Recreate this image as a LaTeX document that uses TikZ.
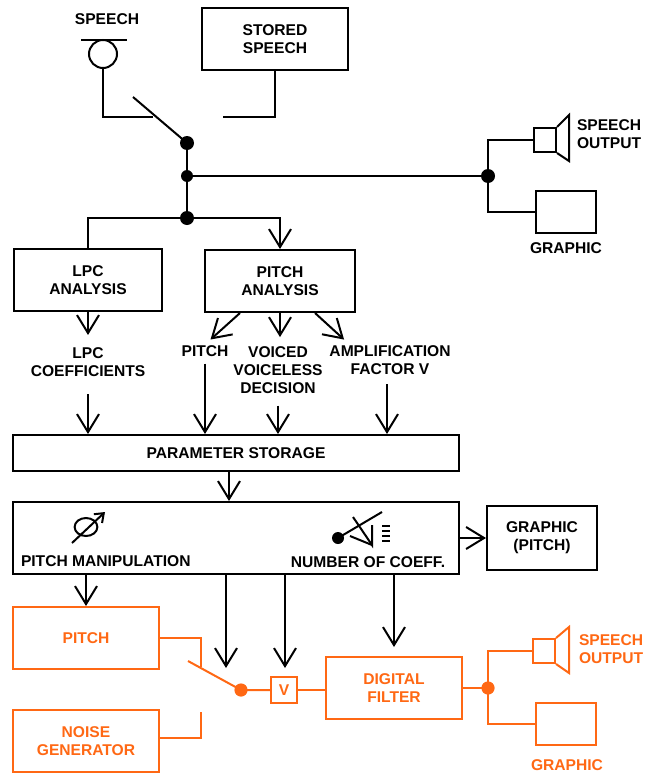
\documentclass[tikz,border=0pt]{standalone}
\usepackage{fontspec}
\setmainfont{Liberation Sans}
\usetikzlibrary{arrows.meta,calc}
\definecolor{orng}{RGB}{255,104,20}
\tikzset{>={Straight Barb[length=9pt,width=11pt]}}
\begin{document}
\begin{tikzpicture}[x=0.5pt,y=-0.5pt, line width=1pt,
  font=\fontsize{7.8}{9}\selectfont\bfseries,
  box/.style 2 args={draw, inner sep=0pt, minimum width=#1*0.5pt, minimum height=#2*0.5pt, align=center},
  lbl/.style={inner sep=0pt, align=center}]
\useasboundingbox (0,0) rectangle (648,776);

\node[box={146}{62}] (stored) at (275,39) {STORED\\SPEECH};
\node[lbl] (micl) at (107,19) {SPEECH};
\node[box={148}{62}] (lpc) at (88,280) {LPC\\ANALYSIS};
\node[box={150}{62}] (pana) at (280,281) {PITCH\\ANALYSIS};
\node[lbl] (coef) at (88,362.5) {LPC\\COEFFICIENTS};
\node[lbl] (pitchl) at (205,351) {PITCH};
\node[lbl] (voiced) at (278,370) {VOICED\\VOICELESS\\DECISION};
\node[lbl] (ampl) at (390,360.5) {AMPLIFICATION\\FACTOR V};
\node[box={446}{36}] (storage) at (236,453) {PARAMETER STORAGE};
\node[box={446}{72}] (manip) at (236,538) {};
\node[lbl, anchor=west] (pmanl) at (20,561) {PITCH MANIPULATION};
\node[lbl] (ncoef) at (368,562) {NUMBER OF COEFF.};
\node[box={110}{64}] (gpitch) at (542,538) {GRAPHIC\\(PITCH)};
\node[box={22}{24}] (spk1) at (545,140) {};
\node[lbl, anchor=west, align=left] (spk1l) at (576,134) {SPEECH\\OUTPUT};
\node[box={60}{42}] (graph1) at (566,212) {};
\node[lbl] (graph1l) at (566,248) {GRAPHIC};

\coordinate (micc) at (103,54);
\coordinate (mic1) at (153,117);
\coordinate (bl1) at (133,97);
\coordinate (st1) at (223,117);
\coordinate (sw) at (187,143);
\coordinate (j1) at (187,176);
\coordinate (j2) at (187,218);
\coordinate (jr) at (488,176);

\draw (micc) circle[radius=7pt];
\draw ([xshift=-11pt,yshift=7pt]micc) -- ++(46,0);
\draw ([yshift=-7pt]micc) |- (mic1);
\draw (bl1) -- (sw);
\draw (stored.south) |- (st1);
\draw (sw) -- (j2);
\draw (j1) -- (jr);
\draw (spk1.west) -| (jr) |- (graph1.west);
\draw (spk1.north east) -- ++(12,-12) -- ++(0,46) -- (spk1.south east);
\draw (lpc.north) |- (j2);
\draw[->] (j2) -| (pana.north);
\foreach \p/\r in {sw/3.5pt, j1/3pt, j2/3.5pt, jr/3.5pt}
  \fill (\p) circle[radius=\r];

\draw[->, shorten >=6pt] (lpc.south) -- (lpc.south |- coef.north);
\draw[->, shorten >=3.7pt] ([xshift=-20pt]pana.south) -- (pitchl.north);
\draw[->, shorten >=4.2pt] (pana.south) -- (pana.south |- voiced.north);
\draw[->, shorten >=4pt] ([xshift=17.5pt]pana.south) -- ([xshift=-20pt]ampl.north);
\draw[->, shorten <=8pt] (coef.south) -- (coef.south |- storage.north);
\draw[->, shorten <=3pt] (pitchl.south) -- (pitchl.south |- storage.north);
\draw[->, shorten <=5.5pt] (voiced.south) -- (voiced.south |- storage.north);
\draw[->, shorten <=4pt] ([xshift=-1.5pt]ampl.south) -- ([xshift=-1.5pt]ampl.south |- storage.north);
\draw[->] ([xshift=-3.5pt]storage.south) -- ([xshift=-3.5pt]manip.north);
\draw[->] (manip.east) -- (gpitch.west);

\draw (86,527) ellipse[x radius=5.7pt, y radius=4.5pt];
\draw[-{Straight Barb[length=4pt,width=6pt]}] (72,543) -- (105,512);
\fill (338,538) circle[radius=3pt];
\draw (338,538) -- (382,512);
\draw (353,517) -- (372,545) -- (372,525);
\draw (350,536) -- (372,545);
\foreach \y in {526,531,536,541}
  \draw (382,\y) -- (390,\y);

\begin{scope}[orng]
\node[box={146}{62}] (pitchbox) at (86,638) {PITCH};
\node[box={146}{62}] (noise) at (86,741) {NOISE\\GENERATOR};
\node[box={26}{26}] (vbox) at (284,690) {V};
\node[box={136}{62}] (filter) at (394,688) {DIGITAL\\FILTER};
\node[box={22}{24}] (spk2) at (544,651) {};
\node[lbl, anchor=west, align=left] (spk2l) at (578,649) {SPEECH\\OUTPUT};
\node[box={60}{42}] (graph2) at (566,724) {};
\node[lbl] (graph2l) at (567,765) {GRAPHIC};

\coordinate (pt1) at (201,667);
\coordinate (nz1) at (201,712);
\coordinate (bl2) at (188,661);
\coordinate (jo) at (241,690);
\coordinate (jo2) at (488,688);

\draw (pitchbox.east) -| (pt1);
\draw ([yshift=1.5pt]noise.east) -| (nz1);
\draw (bl2) -- (jo) -- (vbox.west);
\draw (vbox.east) -- (vbox.east -| filter.west);
\draw (filter.east) -- (jo2);
\draw (spk2.west) -| (jo2) |- (graph2.west);
\draw (spk2.north east) -- ++(13,-11) -- ++(0,46) -- (spk2.south east);
\fill (jo) circle[radius=3.3pt];
\fill (jo2) circle[radius=3.3pt];
\end{scope}

\coordinate (a1) at (226,668);
\coordinate (a2) at (285,668);
\draw[->] (manip.south -| pitchbox.north) -- (pitchbox.north);
\draw[->] (manip.south -| a1) -- (a1);
\draw[->] (manip.south -| a2) -- (a2);
\draw[->, shorten >=4.5pt] (manip.south -| filter.north) -- (filter.north);
\end{tikzpicture}
\end{document}
